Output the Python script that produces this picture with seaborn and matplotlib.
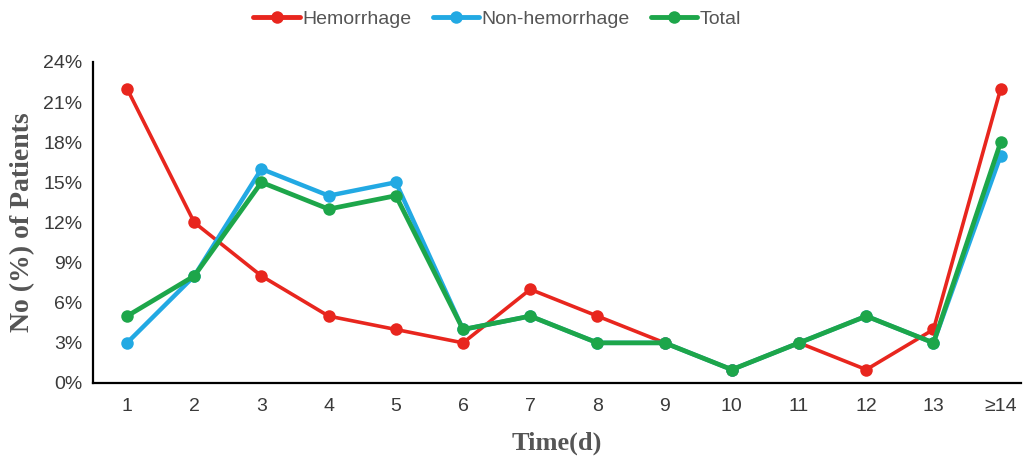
import pandas as pd
import numpy as np
import matplotlib
matplotlib.use('Agg')
import matplotlib.pyplot as plt
import seaborn as sns
from matplotlib.lines import Line2D
from matplotlib.ticker import PercentFormatter

# Dados (%)
days = ['1', '2', '3', '4', '5', '6', '7', '8', '9', '10', '11', '12', '13', '≥14']
hemorrhage = [22, 12, 8, 5, 4, 3, 7, 5, 3, 1, 3, 1, 4, 22]
non_hemorrhage = [3, 8, 16, 14, 15, 4, 5, 3, 3, 1, 3, 5, 3, 17]
total = [5, 8, 15, 13, 14, 4, 5, 3, 3, 1, 3, 5, 3, 18]

groups = ['Hemorrhage', 'Non-hemorrhage', 'Total']
colors = ['#E8261E', '#22A9E3', '#1DA64A']

df = pd.DataFrame({'Dia': days, 'Hemorrhage': hemorrhage,
                   'Non-hemorrhage': non_hemorrhage, 'Total': total})
df['pos'] = np.arange(len(days))
df_long = pd.melt(df, id_vars=['Dia', 'pos'], value_vars=groups,
                  var_name='Grupo', value_name='Pct')

sns.set_style('white')
plt.rcParams['font.family'] = ['Liberation Sans Narrow', 'Liberation Sans', 'DejaVu Sans']

fig = plt.figure(figsize=(10.27, 4.62), dpi=100)
ax = fig.add_axes([0.091, 0.171, 0.903, 0.695])

widths = {'Hemorrhage': 2.6, 'Non-hemorrhage': 3.2, 'Total': 3.4}
for g, c in zip(groups, colors):
    sub = df_long[df_long['Grupo'] == g]
    sns.lineplot(data=sub, x='pos', y='Pct', ax=ax, color=c, marker='o',
                 markersize=9, markeredgewidth=0, linewidth=widths[g],
                 legend=False)

ax.set_xlim(-0.5, 13.3)
ax.set_ylim(0, 24)
ax.set_yticks(np.arange(0, 25, 3))
ax.yaxis.set_major_formatter(PercentFormatter(decimals=0))
ax.set_xticks(df['pos'])
ax.set_xticklabels(days)
ax.tick_params(axis='both', length=0, labelsize=14, labelcolor='#3a3a3a')
ax.tick_params(axis='x', pad=11)
ax.tick_params(axis='y', pad=8)

for s in ['top', 'right']:
    ax.spines[s].set_visible(False)
for s in ['left', 'bottom']:
    ax.spines[s].set_color('black')
    ax.spines[s].set_linewidth(1.6)

ax.set_xlabel('Time(d)', family='Liberation Serif', fontweight='bold',
              fontsize=19, color='#555555', labelpad=12)
ax.set_ylabel('No (%) of Patients', family='Liberation Serif', fontweight='bold',
              fontsize=20, color='#555555', labelpad=6)

handles = [Line2D([0], [0], color=c, marker='o', markersize=9, linewidth=3.5,
                  markeredgewidth=0) for c in colors]
fig.legend(handles, groups, loc='upper center', bbox_to_anchor=(0.484, 1.015),
           ncol=3, frameon=False, handlelength=2.4,
           handletextpad=0.1, columnspacing=1.1, labelcolor='#555555',
           prop={'family': 'Liberation Sans', 'size': 14})

fig.savefig('out.png', dpi=100)
